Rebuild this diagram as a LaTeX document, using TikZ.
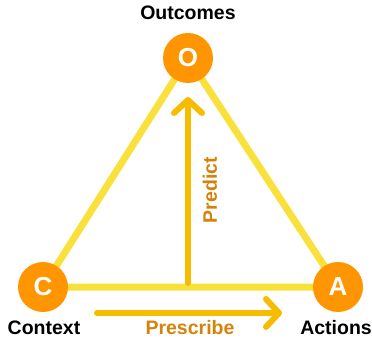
\documentclass[tikz,border=0pt]{standalone}
\usepackage{fontspec}
\setmainfont{Liberation Sans}
\usetikzlibrary{arrows.meta}
\definecolor{tri}{HTML}{F9E03A}
\definecolor{arr}{HTML}{F7BC00}
\definecolor{circ}{HTML}{FF9500}
\definecolor{lab}{HTML}{D4820A}
\begin{document}
\begin{tikzpicture}[x=1pt,y=-1pt,
  vtx/.style={circle,fill=circ,minimum size=50pt,inner sep=0pt,text=white,font=\fontsize{26}{26}\selectfont\bfseries},
  vlabel/.style={font=\fontsize{19.5}{20}\selectfont\bfseries,text=black},
  edge/.style={line width=7pt,draw=tri},
  flow/.style={line width=6pt,draw=arr,line cap=round,-{Straight Barb[round,length=13pt,width=28pt]}},
  flowlab/.style={font=\fontsize{19.5}{20}\selectfont\bfseries,text=lab}]
\useasboundingbox (0,0) rectangle (372,339);
\coordinate (pbase) at (188,283);
\coordinate (ptop) at (188,97);
\coordinate (sl) at (97,313);
\coordinate (sr) at (282,313);
\coordinate (Oc) at (188,58);
\coordinate (Cc) at (43,287);
\coordinate (Ac) at (338,287);
\draw[edge] (Oc) -- (Cc) -- (Ac) -- cycle;
\draw[flow] (pbase) -- (ptop);
\draw[flow] (sl) -- (sr);
\node[vtx] (O) at (Oc) {O};
\node[vtx] (C) at (Cc) {C};
\node[vtx] (A) at (Ac) {A};
\node[vlabel] (to) at (188,13) {Outcomes};
\node[vlabel] (tc) at (44,328) {Context};
\node[vlabel] (ta) at (336,328) {Actions};
\node[flowlab] (tp) at (190,328) {Prescribe};
\node[flowlab,rotate=90] (tr) at (210,190) {Predict};
\end{tikzpicture}
\end{document}
